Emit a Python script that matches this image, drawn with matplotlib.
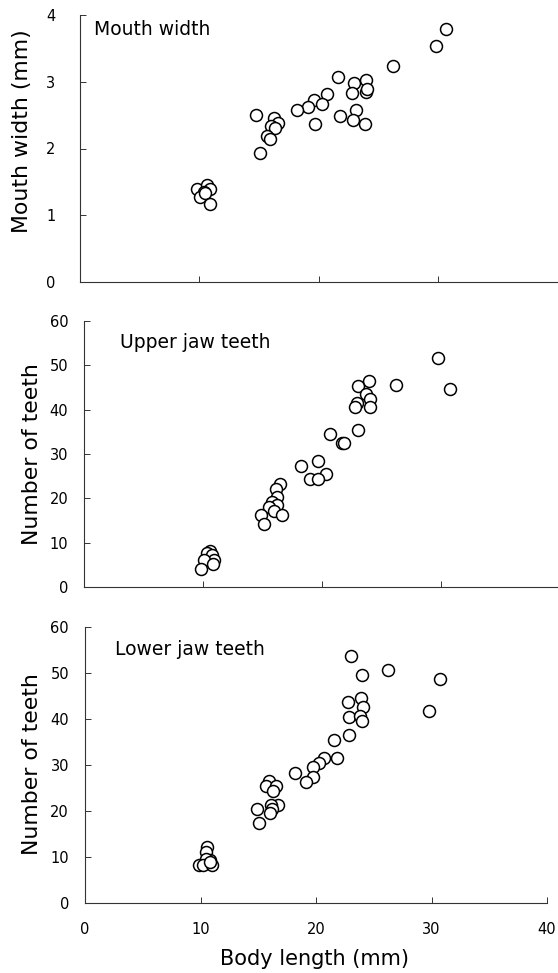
import matplotlib
matplotlib.use("Agg")
import matplotlib.pyplot as plt

# Mouth width vs body length
mouth_x = [30.7, 29.8, 26.2, 21.6, 23.0, 24.0, 24.0, 24.1, 22.8, 20.7, 19.6, 20.3,
           19.1, 18.2, 14.8, 23.1, 22.9, 21.8, 23.9, 19.7, 16.3, 16.6, 16.0, 16.4,
           15.7, 15.9, 15.1, 9.8, 10.7, 10.9, 10.4, 10.1, 10.5, 10.9]
mouth_y = [3.79, 3.54, 3.23, 3.07, 2.98, 3.03, 2.85, 2.89, 2.83, 2.82, 2.73, 2.67,
           2.62, 2.57, 2.50, 2.58, 2.43, 2.48, 2.37, 2.37, 2.45, 2.38, 2.33, 2.31,
           2.18, 2.14, 1.93, 1.39, 1.45, 1.39, 1.35, 1.27, 1.33, 1.17]

# Upper jaw teeth vs body length
upper_x = [29.8, 30.8, 26.3, 24.0, 23.1, 23.7, 24.1, 23.0, 22.8, 24.1, 23.1, 20.7,
           21.7, 21.9, 19.7, 18.3, 20.4, 19.0, 19.7, 16.5, 16.2, 16.3, 15.8, 16.3,
           15.6, 16.0, 16.7, 14.9, 15.2, 10.6, 10.4, 10.8, 11.0, 10.1, 10.9, 9.9]
upper_y = [51.7, 44.7, 45.5, 46.5, 45.4, 43.6, 42.5, 41.6, 40.5, 40.5, 35.5, 34.4,
           32.4, 32.4, 28.4, 27.4, 25.4, 24.3, 24.3, 23.3, 22.2, 20.3, 19.2, 18.4,
           18.1, 17.2, 16.3, 16.3, 14.2, 8.2, 7.6, 7.3, 6.2, 6.2, 5.1, 4.1]

# Lower jaw teeth vs body length
lower_x = [23.0, 26.2, 24.0, 30.7, 29.8, 23.9, 22.8, 24.1, 22.9, 23.8, 24.0, 22.9,
           21.6, 20.7, 21.8, 20.3, 19.7, 18.2, 19.7, 19.1, 15.9, 15.7, 16.5, 16.3,
           16.7, 16.1, 16.2, 14.9, 16.0, 15.1, 10.6, 10.5, 10.8, 10.5, 9.9, 10.2,
           11.0, 10.8]
lower_y = [53.6, 50.5, 49.5, 48.6, 41.7, 44.4, 43.6, 42.5, 40.4, 40.6, 39.6, 36.5,
           35.4, 31.5, 31.5, 30.4, 29.5, 28.3, 27.4, 26.3, 26.4, 25.4, 25.4, 24.3,
           21.3, 21.3, 20.3, 20.3, 19.4, 17.3, 12.1, 11.0, 9.3, 9.4, 8.1, 8.1,
           8.1, 8.8]

x_ticks = [0, 10, 20, 30, 40]

W, H = 558, 973
fig = plt.figure(figsize=(W / 100, H / 100), dpi=100)


def px_axes(left, right, top, bottom):
    return fig.add_axes([left / W, 1 - bottom / H, (right - left) / W, (bottom - top) / H])


panels = [
    # box in px, x, y, ymax, yticks, title, title pos, ylabel, ylabel x px, ylabel frac, ytick pad
    ((79.5, 557.5, 15, 282), mouth_x, mouth_y, 4, [0, 1, 2, 3, 4],
     "Mouth width", (0.030, 0.925), "Mouth width (mm)", 22, 0.566, 17.5),
    ((83.5, 559.5, 321, 587), upper_x, upper_y, 60, [0, 10, 20, 30, 40, 50, 60],
     "Upper jaw teeth", (0.077, 0.898), "Number of teeth", 32, 0.5, 11),
    ((85, 547, 626.7, 902.7), lower_x, lower_y, 60, [0, 10, 20, 30, 40, 50, 60],
     "Lower jaw teeth", (0.065, 0.899), "Number of teeth", 32, 0.502, 11.5),
]

axes = []
for box, xs, ys, ymax, yticks, title, tpos, ylab, ylx, lfrac, ypad in panels:
    ax = px_axes(*box)
    ax.plot(xs, ys, 'o', ms=8.6, mfc='white', mec='black', mew=1.1, clip_on=False)
    ax.set_xlim(0, 40)
    ax.set_ylim(0, ymax)
    ax.set_xticks(x_ticks)
    ax.set_yticks(yticks)
    for s in ['top', 'right']:
        ax.spines[s].set_visible(False)
    for s in ['left', 'bottom']:
        ax.spines[s].set_linewidth(0.8)
        ax.spines[s].set_color('#333333')
    ax.tick_params(direction='in', length=4, width=0.7, color='#333333',
                   labelsize=10.5)
    ax.tick_params(axis='y', pad=ypad)
    ax.tick_params(axis='x', pad=14)
    ax.text(tpos[0], tpos[1], title, transform=ax.transAxes, fontsize=13.5,
            ha='left', va='baseline')
    ax.set_ylabel(ylab, fontsize=15.8)
    left = box[0]
    ax.yaxis.set_label_coords((ylx - left) / (box[1] - left), lfrac)
    ax.yaxis.label.set_va('center')
    axes.append(ax)

axes[0].tick_params(labelbottom=False)
axes[1].tick_params(labelbottom=False)
axes[2].set_xlabel("Body length (mm)", fontsize=15)
axes[2].xaxis.set_label_coords((315 - 85) / 462, (902.7 - 959) / 276)
axes[2].xaxis.label.set_va('center')

fig.savefig("out.png", dpi=100)
